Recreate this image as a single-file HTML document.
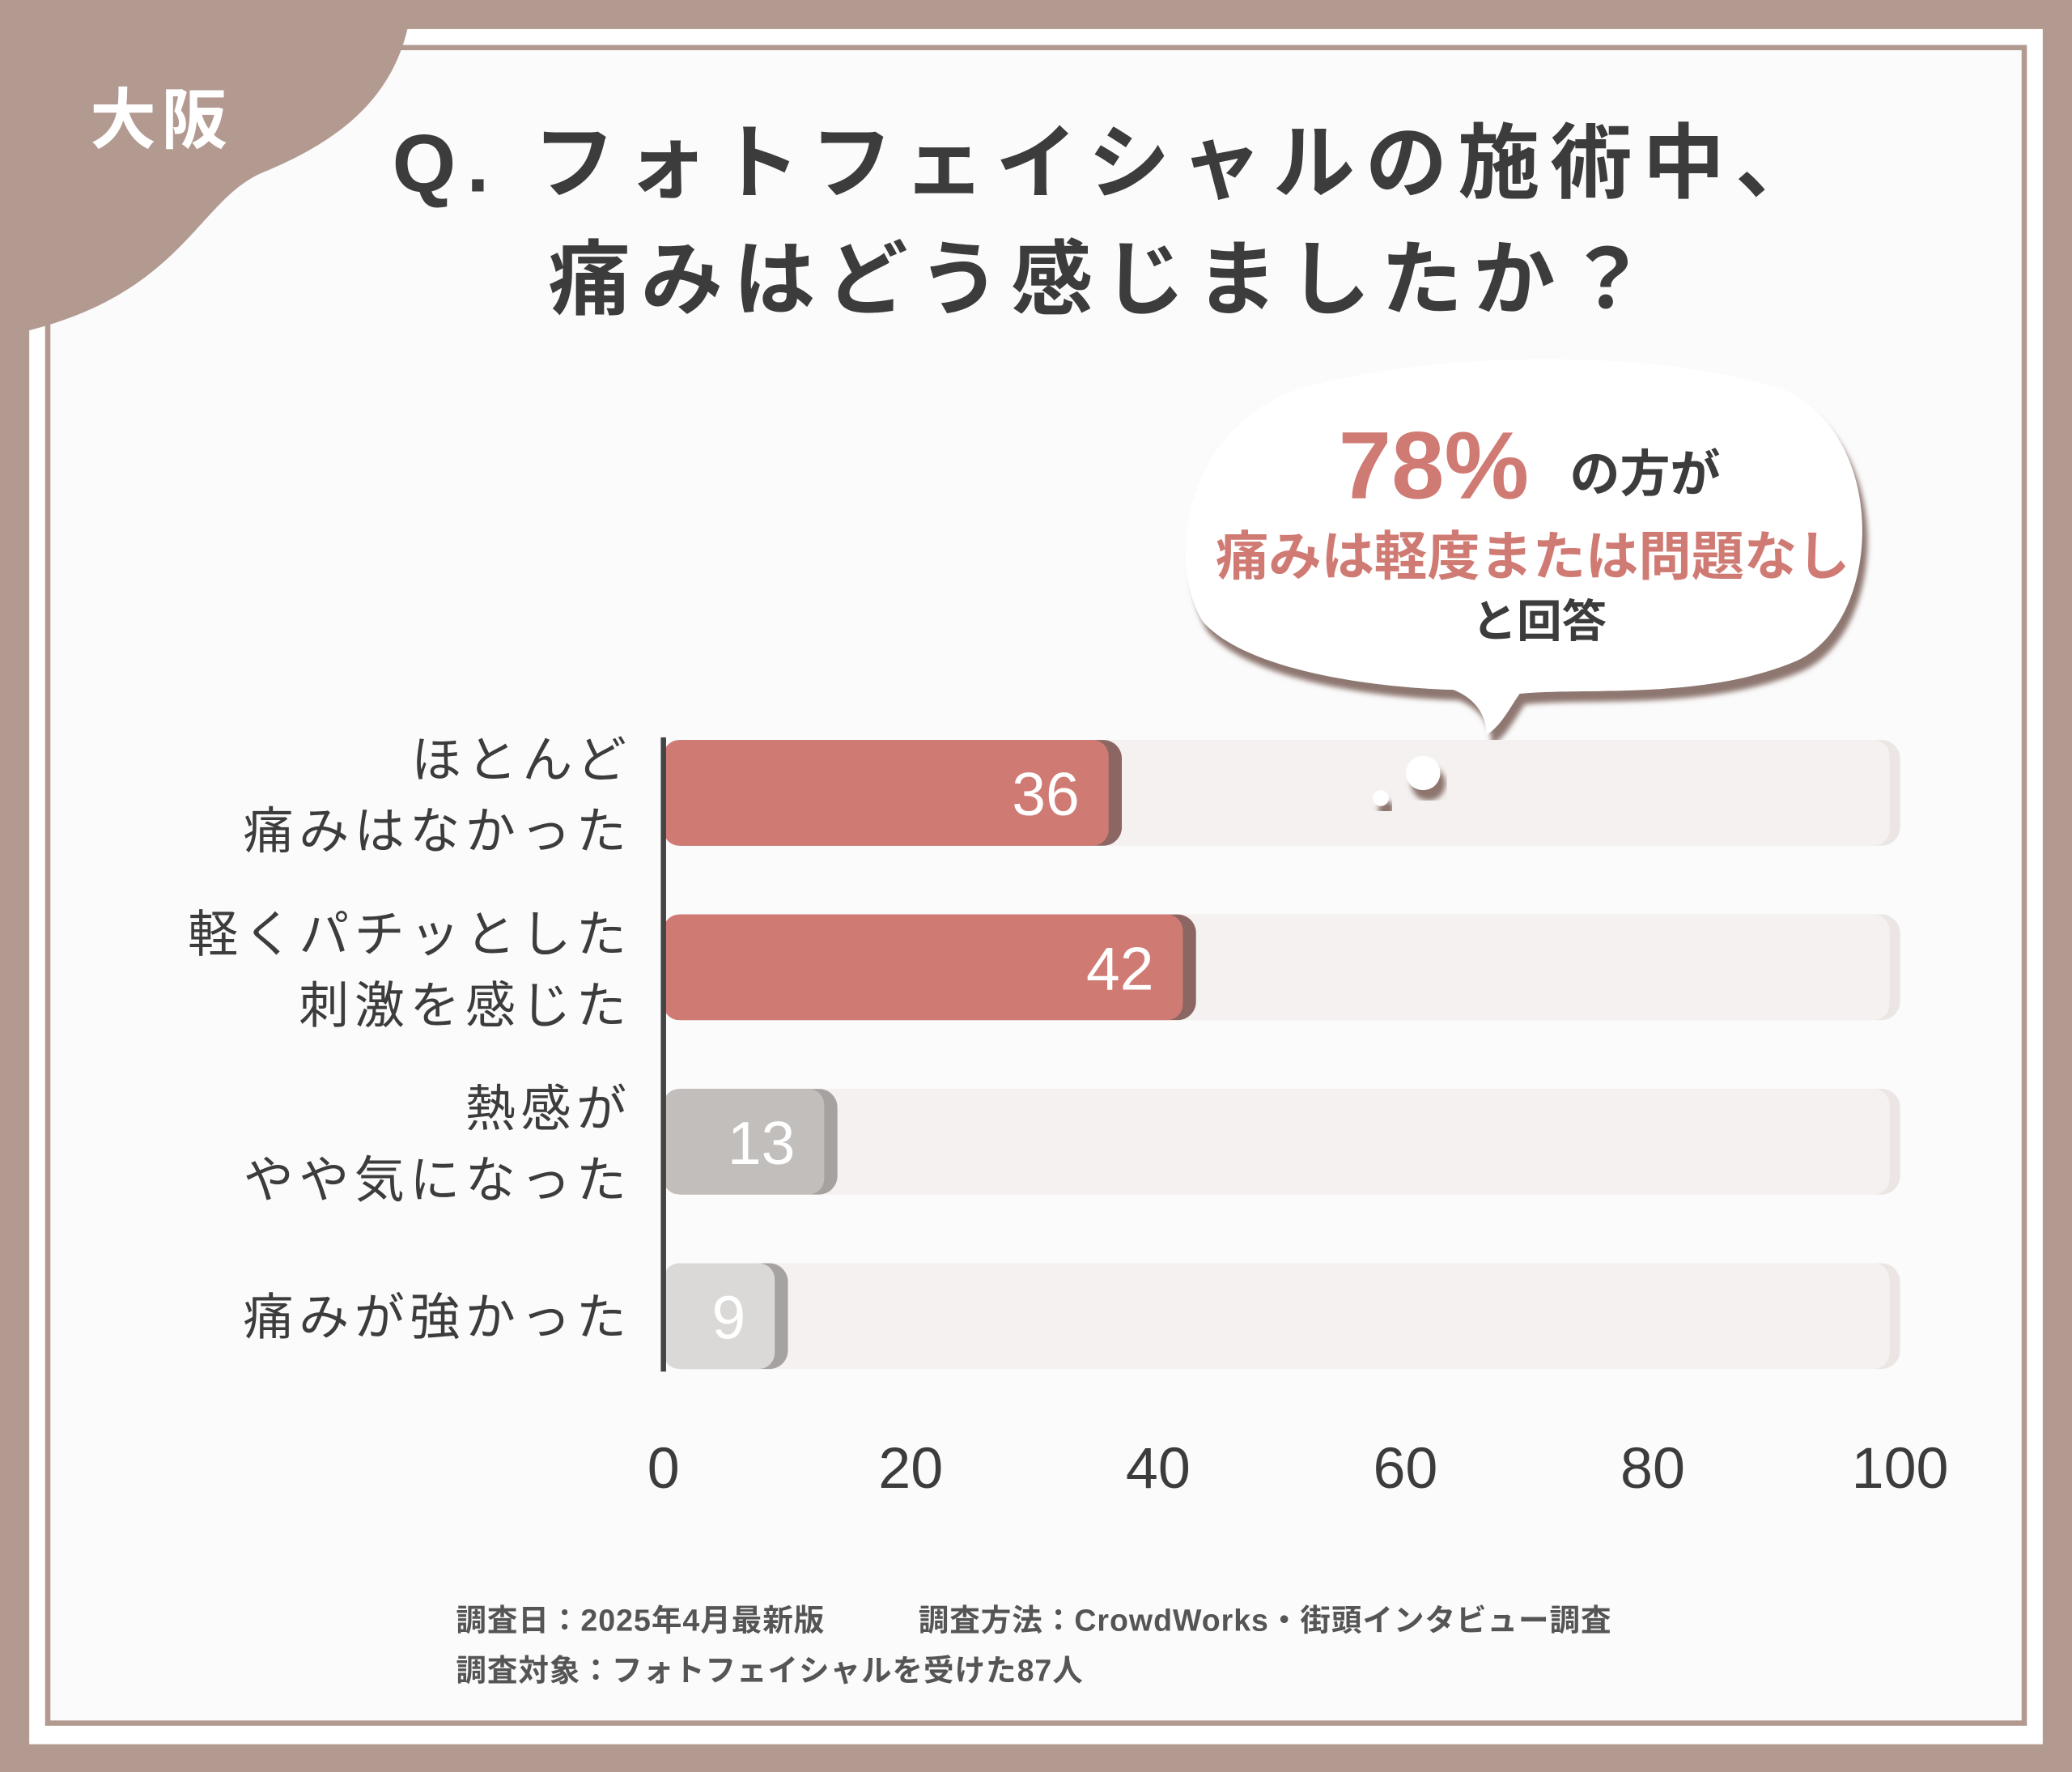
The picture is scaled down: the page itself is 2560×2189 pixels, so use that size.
<!DOCTYPE html>
<html><head><meta charset="utf-8"><style>
html,body{margin:0;padding:0;background:#b39a91;}
svg{display:block;}
text{font-family:"Liberation Sans","Noto Sans CJK JP",sans-serif;}
</style></head><body>
<svg id="chart" width="2560" height="2189" viewBox="0 0 1568 1341" xmlns="http://www.w3.org/2000/svg">
<defs>
<filter id="sh" x="-10%" y="-10%" width="130%" height="140%"><feDropShadow dx="4" dy="8" stdDeviation="2" flood-color="#7a5f59" flood-opacity="0.85"/></filter>
</defs>
<rect x="0" y="0" width="1568" height="1341" fill="#b39a91"/>
<rect x="22" y="22" width="1524" height="1298" fill="#ffffff"/>
<rect x="36" y="36" width="1496" height="1268" fill="#fbfbfb" stroke="#b39a91" stroke-width="4"/>
<path d="M0 0 H312 C305 70 260 105 200 130 C150 150 140 220 22 250 H0 Z" fill="#b39a91"/>
<text x="122" y="108" font-size="50" font-weight="bold" fill="#ffffff" text-anchor="middle" letter-spacing="4">大阪</text>
<text x="840" y="145" font-size="62" font-weight="bold" fill="#3c3c3c" text-anchor="middle" letter-spacing="8">Q. フォトフェイシャルの施術中、</text>
<text x="835" y="233" font-size="62" font-weight="bold" fill="#3c3c3c" text-anchor="middle" letter-spacing="8">痛みはどう感じましたか？</text>
<g filter="url(#sh)">
<path d="M1000 290 C1100 265 1260 265 1350 295 C1430 330 1425 470 1360 500 C1290 530 1200 520 1150 525 C1140 540 1135 550 1125 556 C1125 545 1120 530 1100 522 C1030 520 940 505 910 470 C880 420 900 310 1000 290 Z" fill="#ffffff"/>
</g>
<text x="1085" y="377" font-size="72" font-weight="bold" fill="#d07a74" text-anchor="middle">78%</text>
<text x="1245" y="372" font-size="38" font-weight="bold" fill="#3c3c3c" text-anchor="middle">の方が</text>
<text x="1160" y="435" font-size="40" font-weight="bold" fill="#d07a74" text-anchor="middle">痛みは軽度または問題なし</text>
<text x="1165" y="482" font-size="34" font-weight="bold" fill="#3c3c3c" text-anchor="middle">と回答</text>
<g id="plot"></g>
<circle cx="1077" cy="585" r="13" fill="#fff" filter="url(#sh)"/>
<circle cx="1045" cy="604" r="6" fill="#fff" filter="url(#sh)"/>
<text x="345" y="1234" font-size="23" font-weight="bold" fill="#555" letter-spacing="0.6">調査日：2025年4月最新版　　　調査方法：CrowdWorks・街頭インタビュー調査</text>
<text x="345" y="1272" font-size="23" font-weight="bold" fill="#555" letter-spacing="0.6">調査対象：フォトフェイシャルを受けた87人</text>
</svg>
<script>
const categories = [["ほとんど","痛みはなかった"],["軽くパチッとした","刺激を感じた"],["熱感が","やや気になった"],["痛みが強かった"]];
const values = [36, 42, 13, 9];
const barColors = ["#d07a74","#d07a74","#c2bebc","#dbd9d8"];
const ticks = [0, 20, 40, 60, 80, 100];
const NS="http://www.w3.org/2000/svg";
const g=document.getElementById('plot');
const x0=502, x1=1438, yTop=600, step=132, bh=80;
const xs=v=>x0+(v/100)*(x1-x0);
const yc=i=>yTop+i*step;
function mk(t,a){const e=document.createElementNS(NS,t);for(const k in a)e.setAttribute(k,a[k]);g.appendChild(e);return e;}
categories.forEach((c,i)=>{
  const y=yc(i)-bh/2;
  let tr=mk('rect',{x:x0,y:y,width:xs(100)-x0,height:bh,rx:14,fill:'#ebe6e4'});
  
  
  let tr2=mk('rect',{x:x0,y:y,width:xs(100)-x0-8,height:bh,rx:12,fill:'#f4f1f0'});
  
  
  const dark=i<2?'#8c6662':'#a5a2a0';
  let sd=mk('rect',{x:x0,y:y,width:xs(values[i])-x0+10,height:bh,rx:14,fill:dark});
  
  
  let b=mk('rect',{x:x0,y:y,width:xs(values[i])-x0,height:bh,rx:12,fill:barColors[i]});
  
  
  let vt=mk('text',{x:xs(values[i])-22,y:yc(i)+17,'font-size':46,fill:'#fff','text-anchor':'end'});
  vt.textContent=values[i];
  
  
  c.forEach((line,j)=>{
    const ly = c.length===1 ? yc(i)+14 : yc(i)-12+(j*54);
    let lt=mk('text',{x:478,y:ly,'font-size':38,fill:'#3c3c3c','text-anchor':'end','letter-spacing':4});
    lt.textContent=line;
    
    
  });
});
let ax=mk('line',{x1:x0,x2:x0,y1:yc(0)-bh/2-2,y2:yc(3)+bh/2+2,stroke:'#444',"stroke-width":4});


ticks.forEach(t=>{
  let tt=mk('text',{x:xs(t),y:1126,'font-size':44,fill:'#3c3c3c','text-anchor':'middle'});
  tt.textContent=t;
  
  
});
</script>
</body></html>
